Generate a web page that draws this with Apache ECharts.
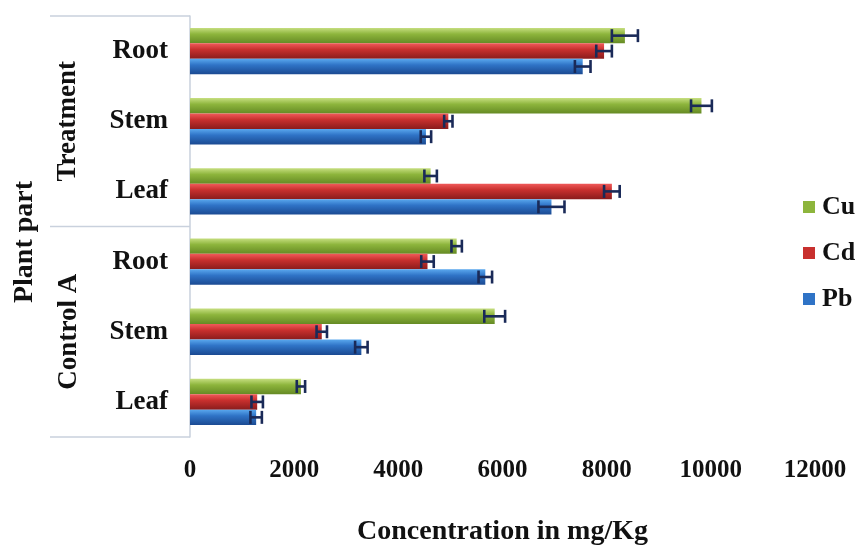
<!DOCTYPE html>
<html><head><meta charset="utf-8">
<script src="https://cdn.jsdelivr.net/npm/echarts@6/dist/echarts.min.js"></script>
<style>html,body{margin:0;padding:0;background:#fff}#c{width:859px;height:547px}</style>
</head><body><div id="c"></div>
<script>
// categories (bottom to top)
const groups = ['Control A','Control A','Control A','Treatment','Treatment','Treatment'];
const parts = ['Leaf','Stem','Root','Leaf','Stem','Root'];
const seriesNames = ['Cu','Cd','Pb'];
// values (mg/Kg)
const cu = [2130, 5850, 5120, 4620, 9820, 8350];
const cd = [1290, 2530, 4560, 8100, 4960, 7950];
const pb = [1270, 3290, 5670, 6940, 4530, 7540];
// error (+/-)
const cuErr = [80, 200, 100, 120, 200, 250];
const cdErr = [110, 100, 120, 150, 80, 150];
const pbErr = [110, 120, 130, 250, 100, 150];
const xTicks = [0, 2000, 4000, 6000, 8000, 10000, 12000];

const F = '"Liberation Serif","Times New Roman",serif';
const catKeys = parts.map((p, i) => groups[i] + '|' + p);
const values = [cu, cd, pb];
const errs = [cuErr, cdErr, pbErr];
const CAT_GAP = 0.34, BAR_GAP = 0.0;

function grad(a, b, c) {
  return new echarts.graphic.LinearGradient(0, 0, 0, 1, [
    {offset: 0, color: a}, {offset: 0.4, color: b}, {offset: 1, color: c}]);
}
const fills = [
  grad('#c6de80', '#8db53c', '#658a24'),
  grad('#f05a5a', '#c8302e', '#8a1c1c'),
  grad('#5aa8ee', '#2f73c6', '#1b4a92')
];
const legendColors = ['#8db53c', '#c8302e', '#2f73c6'];

const chart = echarts.init(document.getElementById('c'), null, {renderer: 'canvas'});

const series = [];
seriesNames.forEach((name, s) => {
  series.push({
    name, type: 'bar', data: values[s],
    barCategoryGap: (CAT_GAP * 100) + '%', barGap: (BAR_GAP * 100) + '%',
    itemStyle: {color: fills[s]}
  });
});
seriesNames.forEach((name, s) => {
  series.push({
    type: 'custom', silent: true, z: 5,
    data: values[s].map((v, i) => [v, i, errs[s][i]]),
    renderItem: function (params, api) {
      const v = api.value(0), idx = api.value(1), e = api.value(2);
      const band = api.size([0, 1])[1];
      const total = band * (1 - CAT_GAP);
      const n = seriesNames.length;
      const bw = total / (n + (n - 1) * BAR_GAP);
      const off = -total / 2 + s * bw * (1 + BAR_GAP) + bw / 2;
      const c = api.coord([v, idx]);
      const y = c[1] + off;
      const l = api.coord([v - e, idx])[0], r = api.coord([v + e, idx])[0];
      const h = bw * 0.42;
      const st = {stroke: '#1a2a58', lineWidth: 2.6};
      return {type: 'group', children: [
        {type: 'line', shape: {x1: l, y1: y, x2: r, y2: y}, style: st},
        {type: 'line', shape: {x1: l, y1: y - h, x2: l, y2: y + h}, style: st},
        {type: 'line', shape: {x1: r, y1: y - h, x2: r, y2: y + h}, style: st}
      ]};
    }
  });
});

chart.setOption({
  backgroundColor: '#fff',
  animation: false,
  grid: {left: 190, right: 44, top: 16, bottom: 110, outerBoundsMode: 'none', containLabel: false},
  legend: {
    orient: 'vertical', left: 798, top: 189, itemGap: 20,
    itemWidth: 12, itemHeight: 12, icon: 'rect',
    data: seriesNames.map((n, i) => ({name: n, itemStyle: {color: legendColors[i]}})),
    textStyle: {fontFamily: F, fontWeight: 'bold', fontSize: 26, color: '#111', padding: [0, 0, 0, 2]}
  },
  xAxis: {
    type: 'value', min: xTicks[0], max: xTicks[xTicks.length - 1], interval: 2000,
    axisLine: {show: false}, axisTick: {show: false}, splitLine: {show: false},
    axisLabel: {margin: 21, fontFamily: F, fontWeight: 'bold', fontSize: 25, color: '#111',
      formatter: v => String(v)},
    name: 'Concentration in mg/Kg', nameLocation: 'middle', nameGap: 81,
    nameTextStyle: {fontFamily: F, fontWeight: 'bold', fontSize: 28, color: '#111'}
  },
  yAxis: {
    type: 'category', data: catKeys,
    axisLine: {show: true, lineStyle: {color: '#c9d1dd', width: 1.5}},
    axisTick: {show: false},
    axisLabel: {margin: 22, fontFamily: F, fontWeight: 'bold', fontSize: 27, color: '#111',
      formatter: v => v.split('|')[1]}
  },
  series
});

// group decorations derived from the category axis
function px(i) { return chart.convertToPixel({yAxisIndex: 0}, i); }
const step = Math.abs(px(1) - px(0));
const yBot = px(0) + step / 2, yMid = px(2) - step / 2, yTop = px(5) - step / 2;
const lineSt = {stroke: '#c9d1dd', lineWidth: 1.5};
chart.setOption({
  graphic: [
    {type: 'line', shape: {x1: 50, y1: yTop, x2: 190, y2: yTop}, style: lineSt},
    {type: 'line', shape: {x1: 50, y1: yMid, x2: 190, y2: yMid}, style: lineSt},
    {type: 'line', shape: {x1: 50, y1: yBot, x2: 190, y2: yBot}, style: lineSt},
    {type: 'text', x: 68, y: (yTop + yMid) / 2, rotation: Math.PI / 2,
      style: {text: 'Treatment', font: 'bold 27px ' + F, fill: '#111', align: 'center', verticalAlign: 'middle'}},
    {type: 'text', x: 69, y: (yMid + yBot) / 2, rotation: Math.PI / 2,
      style: {text: 'Control A', font: 'bold 27px ' + F, fill: '#111', align: 'center', verticalAlign: 'middle'}},
    {type: 'text', x: 25, y: 242, rotation: Math.PI / 2,
      style: {text: 'Plant part', font: 'bold 28px ' + F, fill: '#111', align: 'center', verticalAlign: 'middle'}}
  ]
});
</script></body></html>
